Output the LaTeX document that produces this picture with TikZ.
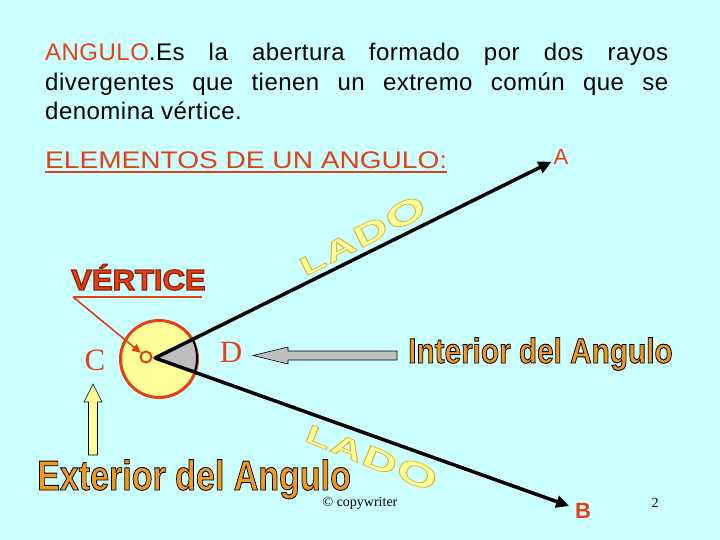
\documentclass[tikz,border=0pt]{standalone}
\usepackage{fontspec}
\setmainfont{Liberation Sans}
\newfontfamily\serifface{Liberation Serif}
\newfontfamily\spacedface[LetterSpace=2]{Liberation Sans}
\usepackage{xcolor}
\usetikzlibrary{arrows.meta, positioning, calc}

\definecolor{slidebg}{RGB}{204,255,255}
\definecolor{titlered}{RGB}{228,64,22}
\definecolor{labelorange}{RGB}{243,153,31}
\definecolor{paleyellow}{RGB}{255,255,153}
\definecolor{sectorgray}{RGB}{190,190,190}

% filled text with an outline: fill colour, stroke rgb, stroke width, text
\newcommand{\strokedtext}[4]{{\color{#1}\special{pdf:literal direct #2 RG #3 w 2 Tr}#4\special{pdf:literal direct 0 Tr 0.4 w}}}
\newcommand{\impactlabel}[2]{\scalebox{#1}[1]{\strokedtext{labelorange}{0 0 0}{0.9}{#2}}}
\newcommand{\ladotext}{\scalebox{1.6}[1]{\strokedtext{paleyellow}{0.85 0.72 0.2}{0.7}{%
  \fontsize{26}{26}\selectfont L\kern1pt\fontsize{28}{28}\selectfont A\kern1pt
  \fontsize{30}{30}\selectfont D\kern1pt\fontsize{33}{33}\selectfont O}}}

\begin{document}
\begin{tikzpicture}[x=1pt, y=-1pt,
    ray/.style={line width=3.5pt, -{Triangle[length=13pt, width=12pt]}},
    pointer/.style={draw=titlered, line width=1.6pt, -{Triangle[length=9pt, width=8pt]}},
    redletter/.style={text=titlered, inner sep=2pt},
    romanletter/.style={text=titlered, font=\serifface\fontsize{31}{31}\selectfont, inner sep=1pt},
    blockgray/.style={fill=sectorgray, draw=black, line width=0.6pt},
    blockyellow/.style={fill=paleyellow, draw=black, line width=0.6pt}]
  \useasboundingbox (0,0) rectangle (720,540);
  \fill[slidebg] (0,0) rectangle (720,540);

  % Definition
  \node[anchor=base west, inner sep=0pt, align=left, font=\spacedface\fontsize{24}{29.5}\selectfont] (def) at (45,120)
    {\makebox[623pt][s]{\textcolor{titlered}{ANGULO}.Es la abertura formado por dos rayos}\\
     \makebox[623pt][s]{divergentes que tienen un extremo común que se}\\
     denomina vértice.};

  \node[anchor=base west, inner sep=0pt, text=titlered, font=\fontsize{24}{24}\selectfont] (elem) at (45,169)
    {\scalebox{1.17}[1]{ELEMENTOS DE UN ANGULO:}};
  \draw[titlered, line width=1.5pt] ([yshift=-3pt]elem.base west) -- ([yshift=-3pt]elem.base east);

  % Angle
  \coordinate (V) at (155,358);
  \node[circle, draw=titlered, fill=paleyellow, line width=3pt, minimum size=77pt, inner sep=0pt] (disk) at (159,359) {};
  \filldraw[fill=sectorgray, draw=black, line width=2pt] (V) -- ++(-26:42) arc (-26:19:42) -- cycle;

  \node[redletter, font=\fontsize{22}{22}\selectfont] (A) at (561,157) {A};
  \node[redletter, font=\bfseries\fontsize{22}{22}\selectfont] (B) at (583,511) {B};

  \draw[ray] (V) -- (A);
  \draw[ray, shorten >=4pt] (V) -- (B);

  \node[circle, draw=titlered, fill=paleyellow, line width=2pt, minimum size=11pt, inner sep=0pt] (vx) at (146,357) {};

  \node[romanletter] (C) at (95,360) {C};
  \node[romanletter] (D) at (231,352) {D};

  % Vertice label
  \node[anchor=base west, inner sep=0pt, font=\bfseries\fontsize{29}{29}\selectfont] (vert) at (71,290)
    {\scalebox{1.07}[1]{\strokedtext{titlered}{0.6 0.12 0.04}{1.2}{VÉRTICE}}};
  \coordinate (vline) at (73,297);
  \draw[titlered, line width=1.8pt] (vline) -- (202,297);
  \draw[pointer] (vline) -- (vx);

  % Lados
  \node[rotate=27, font=\bfseries] (lado1) at (362,235) {\ladotext};
  \node[rotate=-22, font=\bfseries] (lado2) at (372,456) {\ladotext};

  % Interior and exterior
  \node[anchor=base west, inner sep=0pt, font=\bfseries\fontsize{35}{35}\selectfont] (inter) at (408,363)
    {\impactlabel{0.85}{Interior del Angulo}};
  \node[anchor=base west, inner sep=0pt, font=\bfseries\fontsize{42}{42}\selectfont] (exter) at (37,490)
    {\impactlabel{0.81}{Exterior del Angulo}};

  \coordinate (itip) at (253,355.5);
  \coordinate (itail) at (397,355.5);
  \draw[blockgray] (itip) -- ($(itip)+(35,-8.5)$) -- ($(itip)+(35,-4.5)$) -- ($(itail)+(0,-4.5)$)
    -- ($(itail)+(0,4.5)$) -- ($(itip)+(35,4.5)$) -- ($(itip)+(35,8.5)$) -- cycle;

  \coordinate (etip) at (93,384);
  \coordinate (etail) at (93,455);
  \draw[blockyellow] (etip) -- ($(etip)+(9,18)$) -- ($(etip)+(4.5,18)$) -- ($(etail)+(4.5,0)$)
    -- ($(etail)+(-4.5,0)$) -- ($(etip)+(-4.5,18)$) -- ($(etip)+(-9,18)$) -- cycle;

  % Footer
  \node[font=\serifface\fontsize{14}{14}\selectfont] (copy) at (360,503) {© copywriter};
  \node[font=\serifface\fontsize{14}{14}\selectfont] (page) at (655,503) {2};
\end{tikzpicture}
\end{document}
